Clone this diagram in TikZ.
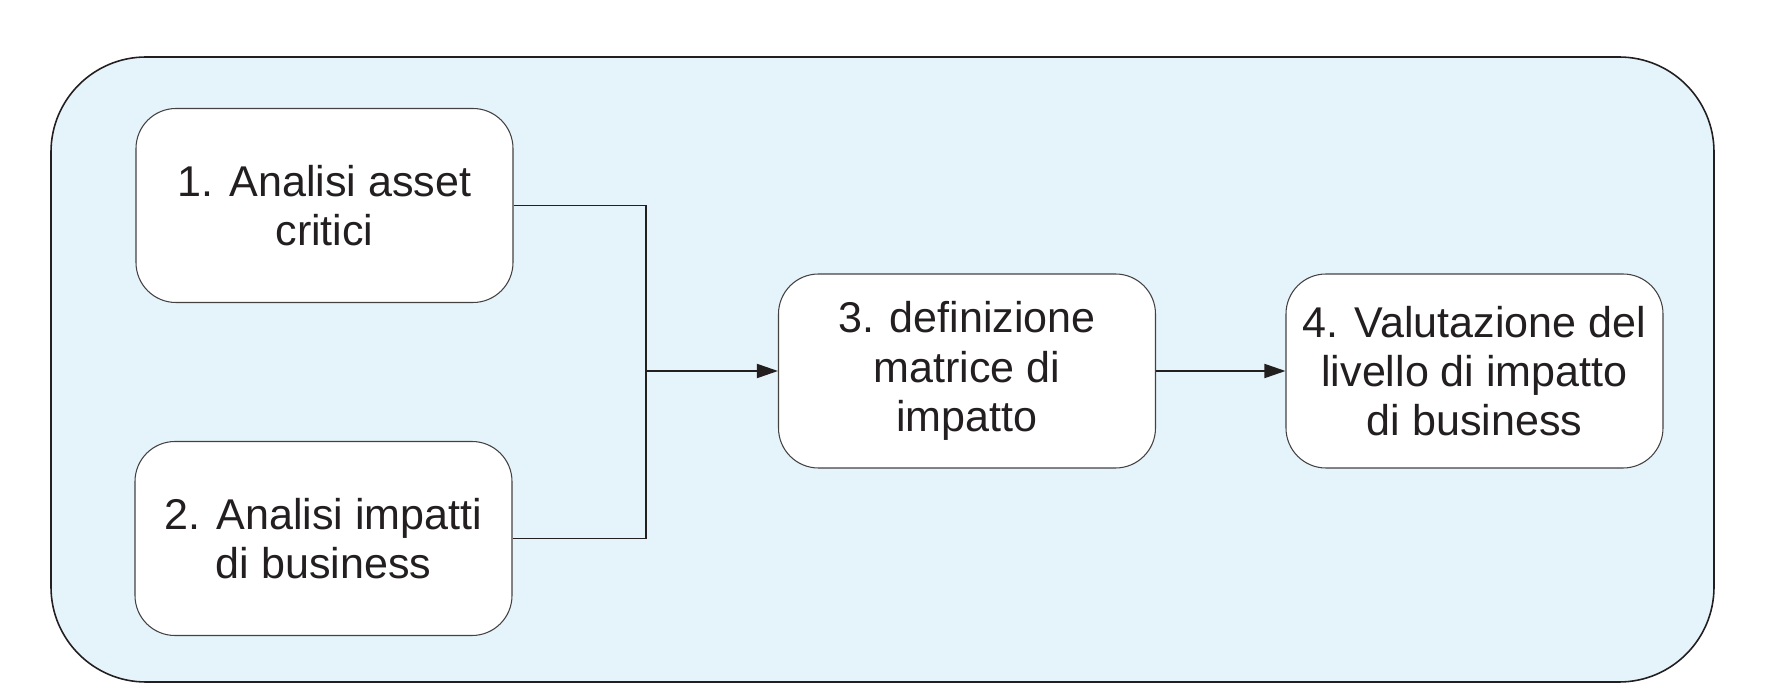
\documentclass[tikz,border=0pt]{standalone}
\usepackage{fontspec}
\setmainfont{Liberation Sans}
\usepackage{xcolor}
\usepackage{tikz}
\usetikzlibrary{arrows.meta}
\definecolor{panelblue}{HTML}{E5F4FA}
\definecolor{inkdark}{HTML}{231F20}

\begin{document}
\begin{tikzpicture}[
        phasebox/.style={draw=inkdark!85, line width=0.6pt, fill=white,
            rounded corners=0.8cm, minimum width=7.54cm, minimum height=3.88cm,
            inner sep=2pt, align=center, text=inkdark,
            font=\fontsize{24.5}{28}\selectfont},
        link/.style={draw=inkdark, line width=1pt},
        arr/.style={link, -{Triangle[length=12pt, width=8pt]}}
    ]
        \useasboundingbox (0,0) rectangle (35.52,13.88);
        % outer panel
        \draw[fill=panelblue, draw=inkdark, line width=0.9pt, rounded corners=1.9cm]
            (1.02,0.24) rectangle (34.28,12.74);
        % the four steps
        \node[phasebox] (asset) at (6.49,9.77) {1. Analisi asset\\critici};
        \node[phasebox] (impatti) at (6.47,3.11) {2. Analisi impatti\\di business};
        \node[phasebox] (matrice) at (19.34,6.46) {3. definizione\\matrice di\\impatto};
        \node[phasebox] (livello) at (29.49,6.46) {4. Valutazione del\\livello di impatto\\di business};
        % merging connector
        \coordinate (join) at (12.92,6.46);
        \draw[link] (asset.east) -| (join) |- (impatti.east);
        \draw[arr] (join) -- (matrice.west);
        \draw[arr] (matrice.east) -- (livello.west);
    \end{tikzpicture}
\end{document}
